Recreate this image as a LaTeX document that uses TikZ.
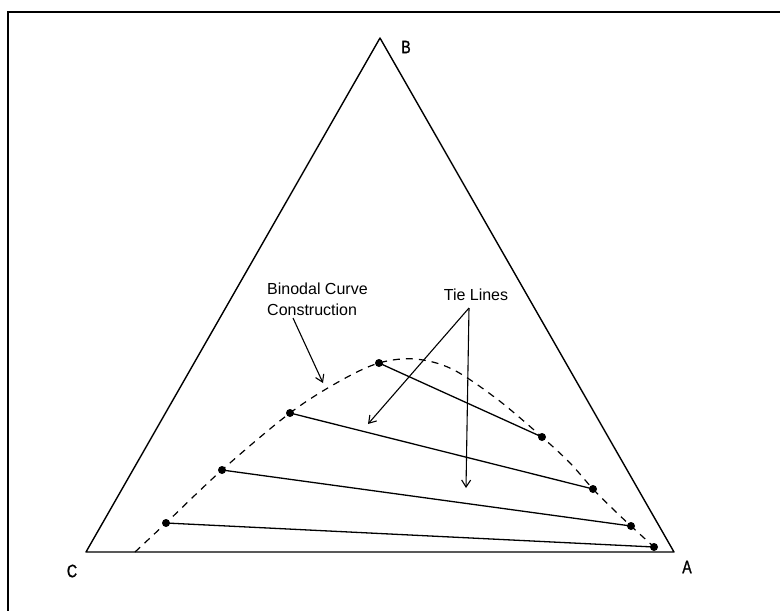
\documentclass[tikz,border=0pt]{standalone}
\usepackage{fontspec}
\setmainfont{Liberation Sans}
\newfontfamily\labfont[FakeStretch=0.78,FakeBold=1.2]{Liberation Sans}
\usetikzlibrary{arrows.meta}
\begin{document}
\begin{tikzpicture}[x=1pt,y=-1pt,
  frame/.style={line width=1.3pt},
  edge/.style={line width=1.4pt, line join=round},
  tie/.style={line width=1.3pt},
  binodal/.style={line width=1.2pt, dash pattern=on 7pt off 6pt},
  pointer/.style={line width=1.1pt, -{Straight Barb[length=7pt,width=9pt]}},
  dot/.style={circle, fill=black, inner sep=0pt, minimum size=8pt},
  vlabel/.style={font=\labfont\fontsize{18}{20}\selectfont, inner sep=0pt},
  callout/.style={font=\fontsize{16}{21}\selectfont, align=left, inner sep=0pt}]
\useasboundingbox (0,0) rectangle (780,611);
% frame (only top and left edges are visible)
\coordinate (f1) at (8,611);
\coordinate (f2) at (8,12);
\coordinate (f3) at (780,12);
\draw[frame] (f1) -- (f2) -- (f3);
% triangle
\coordinate (B) at (380,38);
\coordinate (C) at (86,552);
\coordinate (A) at (674,552);
\draw[edge] (B) -- (A) -- (C) -- cycle;
\node[vlabel] (lB) at (406,47) {B};
\node[vlabel] (lC) at (72,571) {C};
\node[vlabel] (lA) at (687,567) {A};
% tie line end points
\node[dot] (p1) at (379,363) {};
\node[dot] (q1) at (542,437) {};
\node[dot] (p2) at (290,413) {};
\node[dot] (q2) at (593,489) {};
\node[dot] (p3) at (222,470) {};
\node[dot] (q3) at (631,526) {};
\node[dot] (p4) at (166,523) {};
\node[dot] (q4) at (654,547) {};
\draw[tie] (p1.center) -- (q1.center);
\draw[tie] (p2.center) -- (q2.center);
\draw[tie] (p3.center) -- (q3.center);
\draw[tie] (p4.center) -- (q4.center);
% binodal curve
\draw[binodal] plot[smooth, tension=0.55] coordinates {
  (135,552) (166,523) (222,470) (290,413) (340,381) (379,363) (415,359)
  (452,369) (497,399) (542,437) (570,463) (593,489) (615,511) (631,526) (654,547)};
% labels and pointers
\node[callout, anchor=west] (bl) at (267,299) {Binodal Curve\\Construction};
\node[callout] (tl) at (476,295) {Tie Lines};
\coordinate (bs) at (293,318);
\coordinate (be) at (323,383);
\draw[pointer] (bs) -- (be);
\coordinate (ts) at (469,308);
\coordinate (te1) at (368,424);
\coordinate (te2) at (466,488);
\draw[pointer] (ts) -- (te1);
\draw[pointer] (ts) -- (te2);
\end{tikzpicture}
\end{document}
